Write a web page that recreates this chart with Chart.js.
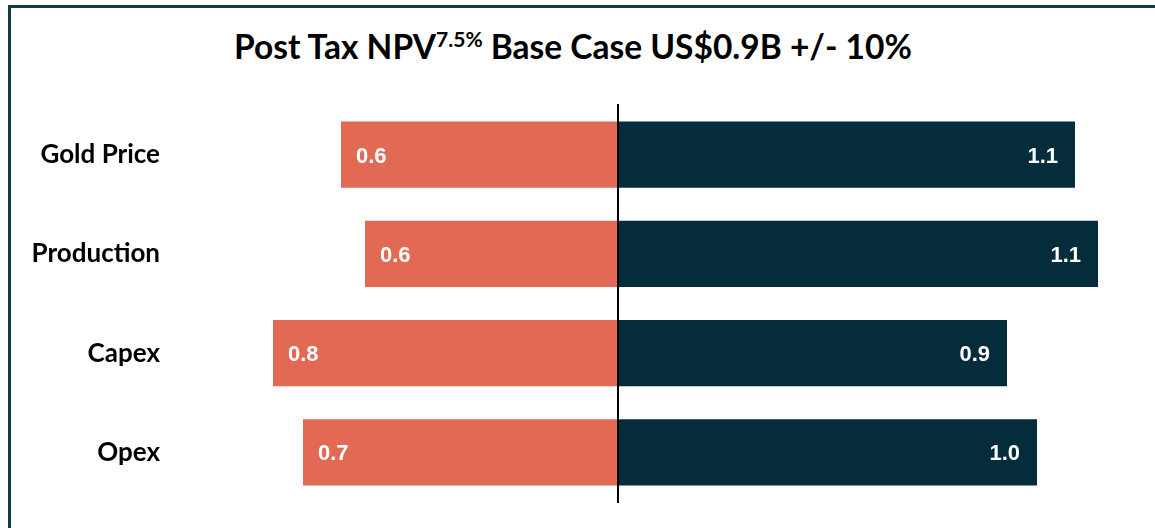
<!DOCTYPE html>
<html>
<head>
<meta charset="utf-8">
<script src="https://cdn.jsdelivr.net/npm/chart.js@4"></script>
<style>
  html, body { margin: 0; padding: 0; background: #fff; }
  #wrap { position: relative; width: 1155px; height: 528px; overflow: hidden; }
  #frame {
    position: absolute; left: 8px; top: 5px; right: -10px; bottom: -10px;
    border-left: 3px solid #0f3b48; border-top: 3px solid #0f3b48;
  }
  #title {
    position: absolute; left: 0; top: 26px; width: 1146px; text-align: center;
    font-family: Lato, sans-serif; font-weight: bold; font-size: 33.5px; color: #000;
  }
  #title sup { font-size: 21px; vertical-align: 0; position: relative; top: -12px; }
  canvas { position: absolute; left: 0; top: 0; }
</style>
</head>
<body>
<div id="wrap">
  <div id="frame"></div>
  <div id="title">Post Tax NPV<sup>7.5%</sup> Base Case US$0.9B +/- 10%</div>
  <canvas id="chart" width="1155" height="528"></canvas>
</div>
<script>
// Chart data
var categories = ['Gold Price', 'Production', 'Capex', 'Opex'];
var lowBars = [-0.277, -0.253, -0.345, -0.315];  // downside swing from base
var highBars = [0.457, 0.480, 0.389, 0.419];     // upside swing from base
var lowLabels = ['0.6', '0.6', '0.8', '0.7'];
var highLabels = ['1.1', '1.1', '0.9', '1.0'];

var lowColor = '#e26a55';
var highColor = '#042c3a';

// Draws the value text inside each bar and the base line
var barText = {
    id: 'barText',
    afterDatasetsDraw: function (chart) {
        var ctx = chart.ctx;
        var xs = chart.scales.x;
        var area = chart.chartArea;
        ctx.save();
        ctx.font = 'bold 22px "Liberation Sans", Arial, sans-serif';
        ctx.fillStyle = '#fff';
        ctx.textBaseline = 'middle';
        chart.getDatasetMeta(0).data.forEach(function (bar, i) {
            ctx.textAlign = 'left';
            ctx.fillText(lowLabels[i], bar.x + 15, bar.y + 2);
        });
        chart.getDatasetMeta(1).data.forEach(function (bar, i) {
            ctx.textAlign = 'right';
            ctx.fillText(highLabels[i], bar.x - 17, bar.y + 2);
        });
        // base line
        var x0 = Math.round(xs.getPixelForValue(0));
        ctx.strokeStyle = '#000';
        ctx.lineWidth = 2;
        ctx.beginPath();
        ctx.moveTo(x0, area.top - 1);
        ctx.lineTo(x0, area.bottom + 1);
        ctx.stroke();
        ctx.restore();
    }
};

new Chart(document.getElementById('chart'), {
    type: 'bar',
    data: {
        labels: categories,
        datasets: [
            { label: 'Low', data: lowBars, backgroundColor: lowColor },
            { label: 'High', data: highBars, backgroundColor: highColor }
        ]
    },
    options: {
        indexAxis: 'y',
        responsive: false,
        animation: false,
        events: [],
        layout: { padding: { top: 105, bottom: 26, left: 0, right: 20 } },
        datasets: { bar: { categoryPercentage: 1, barPercentage: 0.667 } },
        plugins: {
            legend: { display: false },
            tooltip: { enabled: false }
        },
        scales: {
            x: {
                stacked: true,
                display: false,
                min: -0.448,
                max: 0.517
            },
            y: {
                stacked: true,
                grid: { display: false },
                border: { display: false },
                ticks: {
                    padding: 2,
                    color: '#000',
                    font: { family: 'Lato, sans-serif', weight: 'bold', size: 26 }
                },
                afterFit: function (axis) { axis.width = 170; }
            }
        }
    },
    plugins: [barText]
});
</script>
</body>
</html>
